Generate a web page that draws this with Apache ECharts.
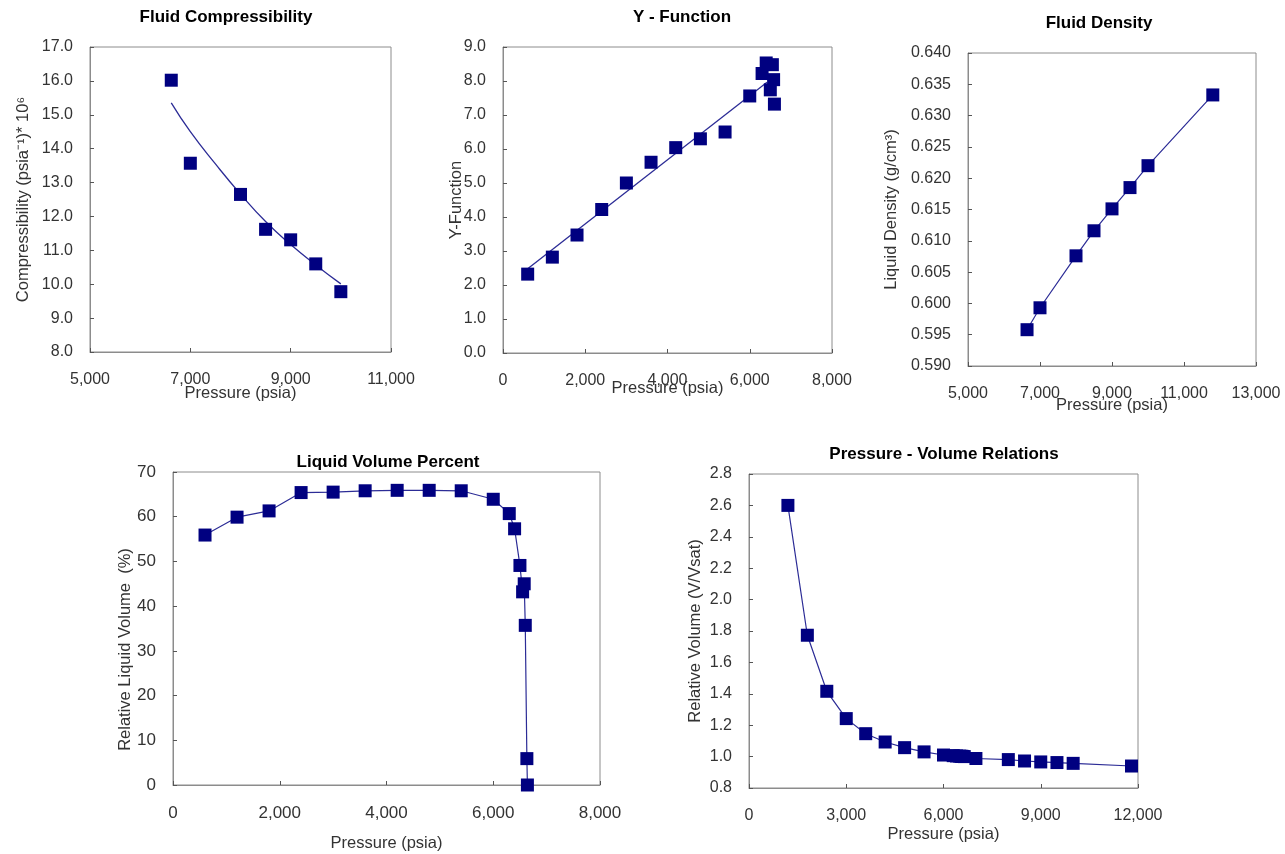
<!DOCTYPE html>
<html><head><meta charset="utf-8">
<script src="https://cdn.jsdelivr.net/npm/echarts@6/dist/echarts.min.js"></script>
<style>html,body{margin:0;padding:0;background:#fff}#c{width:1285px;height:854px}</style>
</head><body><div id="c"></div>
<script>
// ---- Fluid Compressibility ----
const compPressure = [6620, 7000, 8000, 8500, 9000, 9500, 10000];
const compValue = [16.02, 13.57, 12.65, 11.62, 11.31, 10.60, 9.78];
const compTrendPressure = [6620, 7000, 7500, 8000, 8500, 9000, 9500, 10000];
const compTrendValue = [15.35, 14.50, 13.55, 12.66, 11.85, 11.17, 10.57, 10.01];
// ---- Y - Function ----
const yfPressure = [600, 1200, 1800, 2400, 3000, 3600, 4200, 4800, 5400, 6000, 6300, 6400, 6500, 6550, 6580, 6600];
const yfValue = [2.32, 2.82, 3.47, 4.22, 5.00, 5.61, 6.04, 6.30, 6.50, 7.56, 8.22, 8.53, 7.74, 8.48, 8.04, 7.32];
const yfTrendPressure = [600, 6420];
const yfTrendValue = [2.48, 7.96];
// ---- Fluid Density ----
const densPressure = [6640, 7000, 8000, 8500, 9000, 9500, 10000, 11800];
const densValue = [0.5958, 0.5993, 0.6076, 0.6116, 0.6151, 0.6185, 0.6220, 0.6333];
// ---- Liquid Volume Percent ----
const lvPressure = [600, 1200, 1800, 2400, 3000, 3600, 4200, 4800, 5400, 6000, 6300, 6400, 6500, 6550, 6580, 6600, 6630, 6640];
const lvValue = [55.9, 59.9, 61.3, 65.4, 65.5, 65.8, 65.9, 65.9, 65.8, 63.9, 60.7, 57.3, 49.1, 43.2, 45.0, 35.7, 5.9, 0];
// ---- Pressure - Volume Relations ----
const pvPressure = [11800, 10000, 9500, 9000, 8500, 8000, 7000, 6640, 6600, 6580, 6550, 6500, 6400, 6300, 6000, 5400, 4800, 4200, 3600, 3000, 2400, 1800, 1200];
const pvValue = [0.940, 0.957, 0.962, 0.966, 0.972, 0.981, 0.988, 1.000, 1.001, 1.001, 1.002, 1.003, 1.004, 1.006, 1.010, 1.030, 1.057, 1.093, 1.146, 1.242, 1.416, 1.773, 2.600];

// ---- tick settings ----
const xTicks = [
  {min: 5000, max: 11000, interval: 2000},
  {min: 0, max: 8000, interval: 2000},
  {min: 5000, max: 13000, interval: 2000},
  {min: 0, max: 8000, interval: 2000},
  {min: 0, max: 12000, interval: 3000}
];
const yTicks = [
  {min: 8, max: 17, interval: 1, dec: 1},
  {min: 0, max: 9, interval: 1, dec: 1},
  {min: 0.590, max: 0.640, interval: 0.005, dec: 3},
  {min: 0, max: 70, interval: 10, dec: 0},
  {min: 0.8, max: 2.8, interval: 0.2, dec: 1}
];
const titles = ['Fluid Compressibility', 'Y - Function', 'Fluid Density', 'Liquid Volume Percent', 'Pressure - Volume Relations'];
const xNames = ['Pressure (psia)', 'Pressure (psia)', 'Pressure (psia)', 'Pressure (psia)', 'Pressure (psia)'];
const yNames = ['Compressibility (psia\u207B\u00B9)* 10\u2076', 'Y-Function', 'Liquid Density (g/cm\u00B3)', 'Relative Liquid Volume  (%)', 'Relative Volume (V/Vsat)'];

// ---- layout ----
const grids = [
  {left: 90, top: 47, width: 301, height: 305},
  {left: 503, top: 47, width: 329, height: 306},
  {left: 968, top: 53, width: 288, height: 313},
  {left: 173, top: 472, width: 427, height: 313},
  {left: 749, top: 474, width: 389, height: 314}
];
const titlePos = [[226, 17], [682, 17], [1099, 23], [388, 462], [944, 454]];
const xNameGap = [33, 27, 31, 50, 38];
const yNameGap = [58, 38, 68, 39, 45];
const yNamePad = [[0,0,0,0],[0,0,0,0],[0,0,0,0],[0,42,0,0],[0,0,0,0]];
const labelSize = [16, 16, 16, 17, 16];

const FONT = '"Liberation Sans", Arial, sans-serif';
const NAVY = '#000080';
const LINE = '#2c2c96';
function fmtK(v) { return Math.round(v).toString().replace(/\B(?=(\d{3})+(?!\d))/g, ','); }
function zip(a, b) { return a.map((v, i) => [v, b[i]]); }

const xAxis = xTicks.map((t, i) => ({
  type: 'value', gridIndex: i, min: t.min, max: t.max, interval: t.interval,
  name: xNames[i], nameLocation: 'middle', nameGap: xNameGap[i], nameMoveOverlap: false,
  nameTextStyle: {color: '#333', fontSize: 16.5, fontFamily: FONT},
  axisLine: {show: true, lineStyle: {color: '#8c8c8c', width: 1}},
  axisTick: {show: true, inside: true, length: 4, lineStyle: {color: '#555'}},
  splitLine: {show: false},
  axisLabel: {color: '#333', fontSize: labelSize[i], fontFamily: FONT, margin: 20, formatter: fmtK}
}));
const yAxis = yTicks.map((t, i) => ({
  type: 'value', gridIndex: i, min: t.min, max: t.max, interval: t.interval,
  name: yNames[i], nameLocation: 'middle', nameGap: yNameGap[i], nameMoveOverlap: false,
  nameTextStyle: {color: '#333', fontSize: 16.5, fontFamily: FONT, padding: yNamePad[i]},
  axisLine: {show: true, lineStyle: {color: '#8c8c8c', width: 1}},
  axisTick: {show: true, inside: true, length: 4, lineStyle: {color: '#555'}},
  splitLine: {show: false},
  axisLabel: {color: '#333', fontSize: labelSize[i], fontFamily: FONT, margin: 17,
    formatter: v => Number(v).toFixed(t.dec)}
}));

const markerStyle = {symbol: 'rect', symbolSize: 13, itemStyle: {color: NAVY, opacity: 1}};
const series = [
  Object.assign({type: 'scatter', xAxisIndex: 0, yAxisIndex: 0, data: zip(compPressure, compValue), z: 3}, markerStyle),
  {type: 'line', xAxisIndex: 0, yAxisIndex: 0, data: zip(compTrendPressure, compTrendValue), smooth: 0.5,
    showSymbol: false, lineStyle: {color: LINE, width: 1.3}, z: 2},
  Object.assign({type: 'scatter', xAxisIndex: 1, yAxisIndex: 1, data: zip(yfPressure, yfValue), z: 3}, markerStyle),
  {type: 'line', xAxisIndex: 1, yAxisIndex: 1, data: zip(yfTrendPressure, yfTrendValue),
    showSymbol: false, lineStyle: {color: LINE, width: 1.3}, z: 2},
  Object.assign({type: 'line', xAxisIndex: 2, yAxisIndex: 2, data: zip(densPressure, densValue), showAllSymbol: true,
    lineStyle: {color: LINE, width: 1.2}}, markerStyle),
  Object.assign({type: 'line', xAxisIndex: 3, yAxisIndex: 3, data: zip(lvPressure, lvValue), showAllSymbol: true,
    lineStyle: {color: LINE, width: 1.2}}, markerStyle),
  Object.assign({type: 'line', xAxisIndex: 4, yAxisIndex: 4, data: zip(pvPressure, pvValue), showAllSymbol: true,
    lineStyle: {color: LINE, width: 1.2}}, markerStyle)
];

const graphic = titles.map((t, i) => ({
  type: 'text', x: titlePos[i][0], y: titlePos[i][1],
  style: {text: t, font: 'bold 17px ' + FONT, fill: '#000', align: 'center', verticalAlign: 'middle',
    textAlign: 'center', textVerticalAlign: 'middle'}
}));

const chart = echarts.init(document.getElementById('c'));
chart.setOption({
  animation: false,
  backgroundColor: '#fff',
  grid: grids.map(g => Object.assign({show: true, borderColor: '#8c8c8c', borderWidth: 1, backgroundColor: 'transparent', containLabel: false}, g)),
  xAxis: xAxis,
  yAxis: yAxis,
  series: series,
  graphic: graphic
});
</script></body></html>
